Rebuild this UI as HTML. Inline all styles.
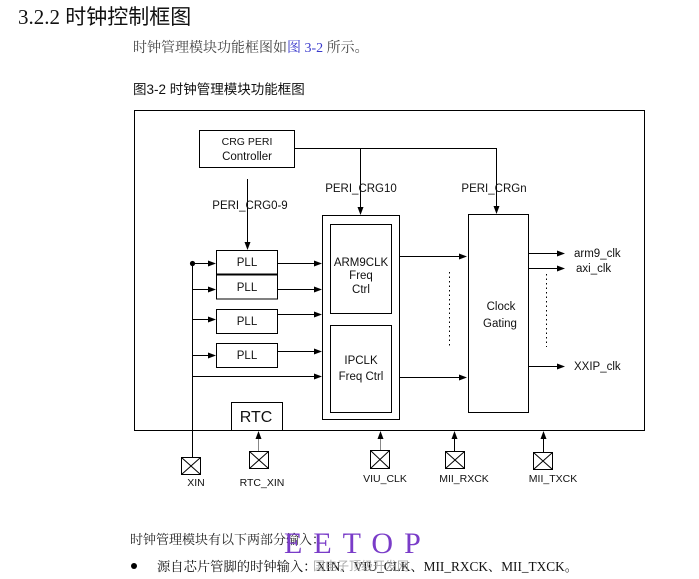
<!DOCTYPE html>
<html><head><meta charset="utf-8">
<style>
html,body{margin:0;padding:0;background:#fff;width:699px;height:579px;overflow:hidden}
svg{display:block}
.s{font-family:"Liberation Sans",Arial,sans-serif;fill:#111}
.cj{font-family:"Liberation Serif","Noto Serif CJK SC",serif;fill:#222}
.cs{font-family:"Liberation Sans","Noto Sans CJK SC",sans-serif;fill:#111}
</style></head><body>
<svg width="699" height="579" viewBox="0 0 699 579" xmlns="http://www.w3.org/2000/svg">
<!-- heading -->
<text x="18" y="24" font-size="21" class="cj" style="fill:#111"><tspan font-family="Liberation Serif">3.2.2 </tspan><tspan font-family="Noto Sans CJK SC">时钟控制框图</tspan></text>
<text x="133" y="52" font-size="14" class="cj" style="fill:#444">时钟管理模块功能框图如<tspan fill="#3a3acc">图 3-2</tspan> 所示。</text>
<text x="133" y="94" font-size="13.5" class="cs" style="fill:#111">图3-2  时钟管理模块功能框图</text>

<g stroke="#000" stroke-width="1" fill="none">
<rect x="134.5" y="110.5" width="510" height="320"/>
<rect x="199.5" y="130.5" width="95" height="37"/>
<polyline points="294,148.5 496.5,148.5 496.5,207"/>
<line x1="360.5" y1="148" x2="360.5" y2="208"/>
<line x1="247.5" y1="179" x2="247.5" y2="243"/>
<rect x="216.5" y="250.5" width="61" height="24"/>
<line x1="216" y1="274.5" x2="278" y2="274.5" stroke-width="2"/>
<rect x="216.5" y="274.5" width="61" height="24.5"/>
<rect x="216.5" y="309.5" width="61" height="24"/>
<rect x="216.5" y="343.5" width="61" height="24"/>
<line x1="192.5" y1="263" x2="192.5" y2="457"/>
<line x1="192" y1="263.5" x2="209" y2="263.5"/>
<line x1="192" y1="289.5" x2="209" y2="289.5"/>
<line x1="192" y1="319.5" x2="209" y2="319.5"/>
<line x1="192" y1="355.5" x2="209" y2="355.5"/>
<line x1="192" y1="376.5" x2="315" y2="376.5"/>
<line x1="277" y1="263.5" x2="315" y2="263.5"/>
<line x1="277" y1="289.5" x2="315" y2="289.5"/>
<line x1="277" y1="314.5" x2="315" y2="314.5"/>
<line x1="277" y1="351.5" x2="315" y2="351.5"/>
<rect x="322.5" y="215.5" width="77" height="204"/>
<rect x="330.5" y="224.5" width="61" height="89"/>
<rect x="330.5" y="325.5" width="61" height="87"/>
<line x1="399" y1="256.5" x2="460" y2="256.5"/>
<line x1="399" y1="377.5" x2="460" y2="377.5"/>
<rect x="468.5" y="214.5" width="60" height="198"/>
<line x1="449.5" y1="272" x2="449.5" y2="348" stroke-dasharray="1.5,3"/>
<line x1="546.5" y1="274" x2="546.5" y2="347" stroke-dasharray="1.5,3"/>
<line x1="528" y1="253.5" x2="558" y2="253.5"/>
<line x1="528" y1="268.5" x2="558" y2="268.5"/>
<line x1="528" y1="366.5" x2="558" y2="366.5"/>
<rect x="231.5" y="402.5" width="51" height="28"/>
<!-- pins -->
<rect x="181.5" y="457.5" width="19" height="17"/>
<path d="M181.5 457.5 L200.5 474.5 M200.5 457.5 L181.5 474.5"/>
<rect x="249.5" y="451.5" width="19" height="17"/>
<path d="M249.5 451.5 L268.5 468.5 M268.5 451.5 L249.5 468.5"/>
<line x1="258.5" y1="451" x2="258.5" y2="437" stroke="#888"/>
<rect x="370.5" y="450.5" width="19" height="18"/>
<path d="M370.5 450.5 L389.5 468.5 M389.5 450.5 L370.5 468.5"/>
<line x1="380.5" y1="450" x2="380.5" y2="437" stroke="#888"/>
<rect x="445.5" y="451.5" width="19" height="17"/>
<path d="M445.5 451.5 L464.5 468.5 M464.5 451.5 L445.5 468.5"/>
<line x1="454.5" y1="451" x2="454.5" y2="437"/>
<rect x="533.5" y="452.5" width="19" height="17"/>
<path d="M533.5 452.5 L552.5 469.5 M552.5 452.5 L533.5 469.5"/>
<line x1="543.5" y1="452" x2="543.5" y2="437"/>
</g>
<g fill="#000">
<circle cx="192.5" cy="263.5" r="2.6"/>
<!-- down arrows -->
<polygon points="493.5,206 496.5,214 499.5,206"/>
<polygon points="357.5,207 360.5,215 363.5,207"/>
<polygon points="244.5,242 247.5,250 250.5,242"/>
<!-- right arrows -->
<polygon points="208,260.5 216,263.5 208,266.5"/>
<polygon points="208,286.5 216,289.5 208,292.5"/>
<polygon points="208,316.5 216,319.5 208,322.5"/>
<polygon points="208,352.5 216,355.5 208,358.5"/>
<polygon points="314,373.5 322,376.5 314,379.5"/>
<polygon points="314,260.5 322,263.5 314,266.5"/>
<polygon points="314,286.5 322,289.5 314,292.5"/>
<polygon points="314,311.5 322,314.5 314,317.5"/>
<polygon points="314,348.5 322,351.5 314,354.5"/>
<polygon points="459,253.5 467,256.5 459,259.5"/>
<polygon points="459,374.5 467,377.5 459,380.5"/>
<polygon points="557,250.5 565,253.5 557,256.5"/>
<polygon points="557,265.5 565,268.5 557,271.5"/>
<polygon points="557,363.5 565,366.5 557,369.5"/>
<!-- up arrows -->
<polygon points="255.5,439 258.5,431 261.5,439"/>
<polygon points="377.5,439 380.5,431 383.5,439"/>
<polygon points="451.5,439 454.5,431 457.5,439"/>
<polygon points="540.5,439 543.5,431 546.5,439"/>
</g>
<g class="s" font-size="11">
<text x="247" y="145" text-anchor="middle" font-size="10.5">CRG PERI</text>
<text x="247" y="160" text-anchor="middle" font-size="11.5">Controller</text>
<text x="361" y="192" text-anchor="middle" font-size="11.5">PERI_CRG10</text>
<text x="494" y="192" text-anchor="middle" font-size="11.5">PERI_CRGn</text>
<text x="250" y="209" text-anchor="middle" font-size="11.5">PERI_CRG0-9</text>
<text x="247" y="266" text-anchor="middle" font-size="11.5">PLL</text>
<text x="247" y="291" text-anchor="middle" font-size="11.5">PLL</text>
<text x="247" y="325" text-anchor="middle" font-size="11.5">PLL</text>
<text x="247" y="359" text-anchor="middle" font-size="11.5">PLL</text>
<text x="361" y="266" text-anchor="middle" font-size="11.5">ARM9CLK</text>
<text x="361" y="279" text-anchor="middle" font-size="11.5">Freq</text>
<text x="361" y="293" text-anchor="middle" font-size="11.5">Ctrl</text>
<text x="361" y="364" text-anchor="middle" font-size="11.5">IPCLK</text>
<text x="361" y="380" text-anchor="middle" font-size="11.5">Freq Ctrl</text>
<text x="501" y="310" text-anchor="middle" font-size="11.5">Clock</text>
<text x="500" y="327" text-anchor="middle" font-size="11.5">Gating</text>
<text x="574" y="257" font-size="11.5">arm9_clk</text>
<text x="576" y="272" font-size="11.5">axi_clk</text>
<text x="574" y="370" font-size="11.5">XXIP_clk</text>
<text x="256" y="422" text-anchor="middle" font-size="16">RTC</text>
<text x="196" y="486" text-anchor="middle" font-size="10.5">XIN</text>
<text x="262" y="486" text-anchor="middle" font-size="10.5">RTC_XIN</text>
<text x="385" y="482" text-anchor="middle" font-size="10.5">VIU_CLK</text>
<text x="464" y="482" text-anchor="middle" font-size="10.5">MII_RXCK</text>
<text x="553" y="482" text-anchor="middle" font-size="10.5">MII_TXCK</text>
</g>
<!-- bottom text -->
<text x="130" y="544" font-size="13" class="cj" style="fill:#222">时钟管理模块有以下两部分输入：</text>
<circle cx="134" cy="566" r="3" fill="#000"/>
<text x="157" y="571" font-size="13.3" class="cj" style="fill:#111">源自芯片管脚的时钟输入：XIN、VIU_CLK、MII_RXCK、MII_TXCK。</text>
<text x="313" y="570" font-size="12" font-family="Noto Sans CJK SC, sans-serif" fill="#999" fill-opacity="0.8">国电子顶级开发网</text>
<text x="284" y="553" font-size="30" font-family="Liberation Serif, serif" fill="#7a3cc8" letter-spacing="11">EETOP</text>
</svg>
</body></html>
